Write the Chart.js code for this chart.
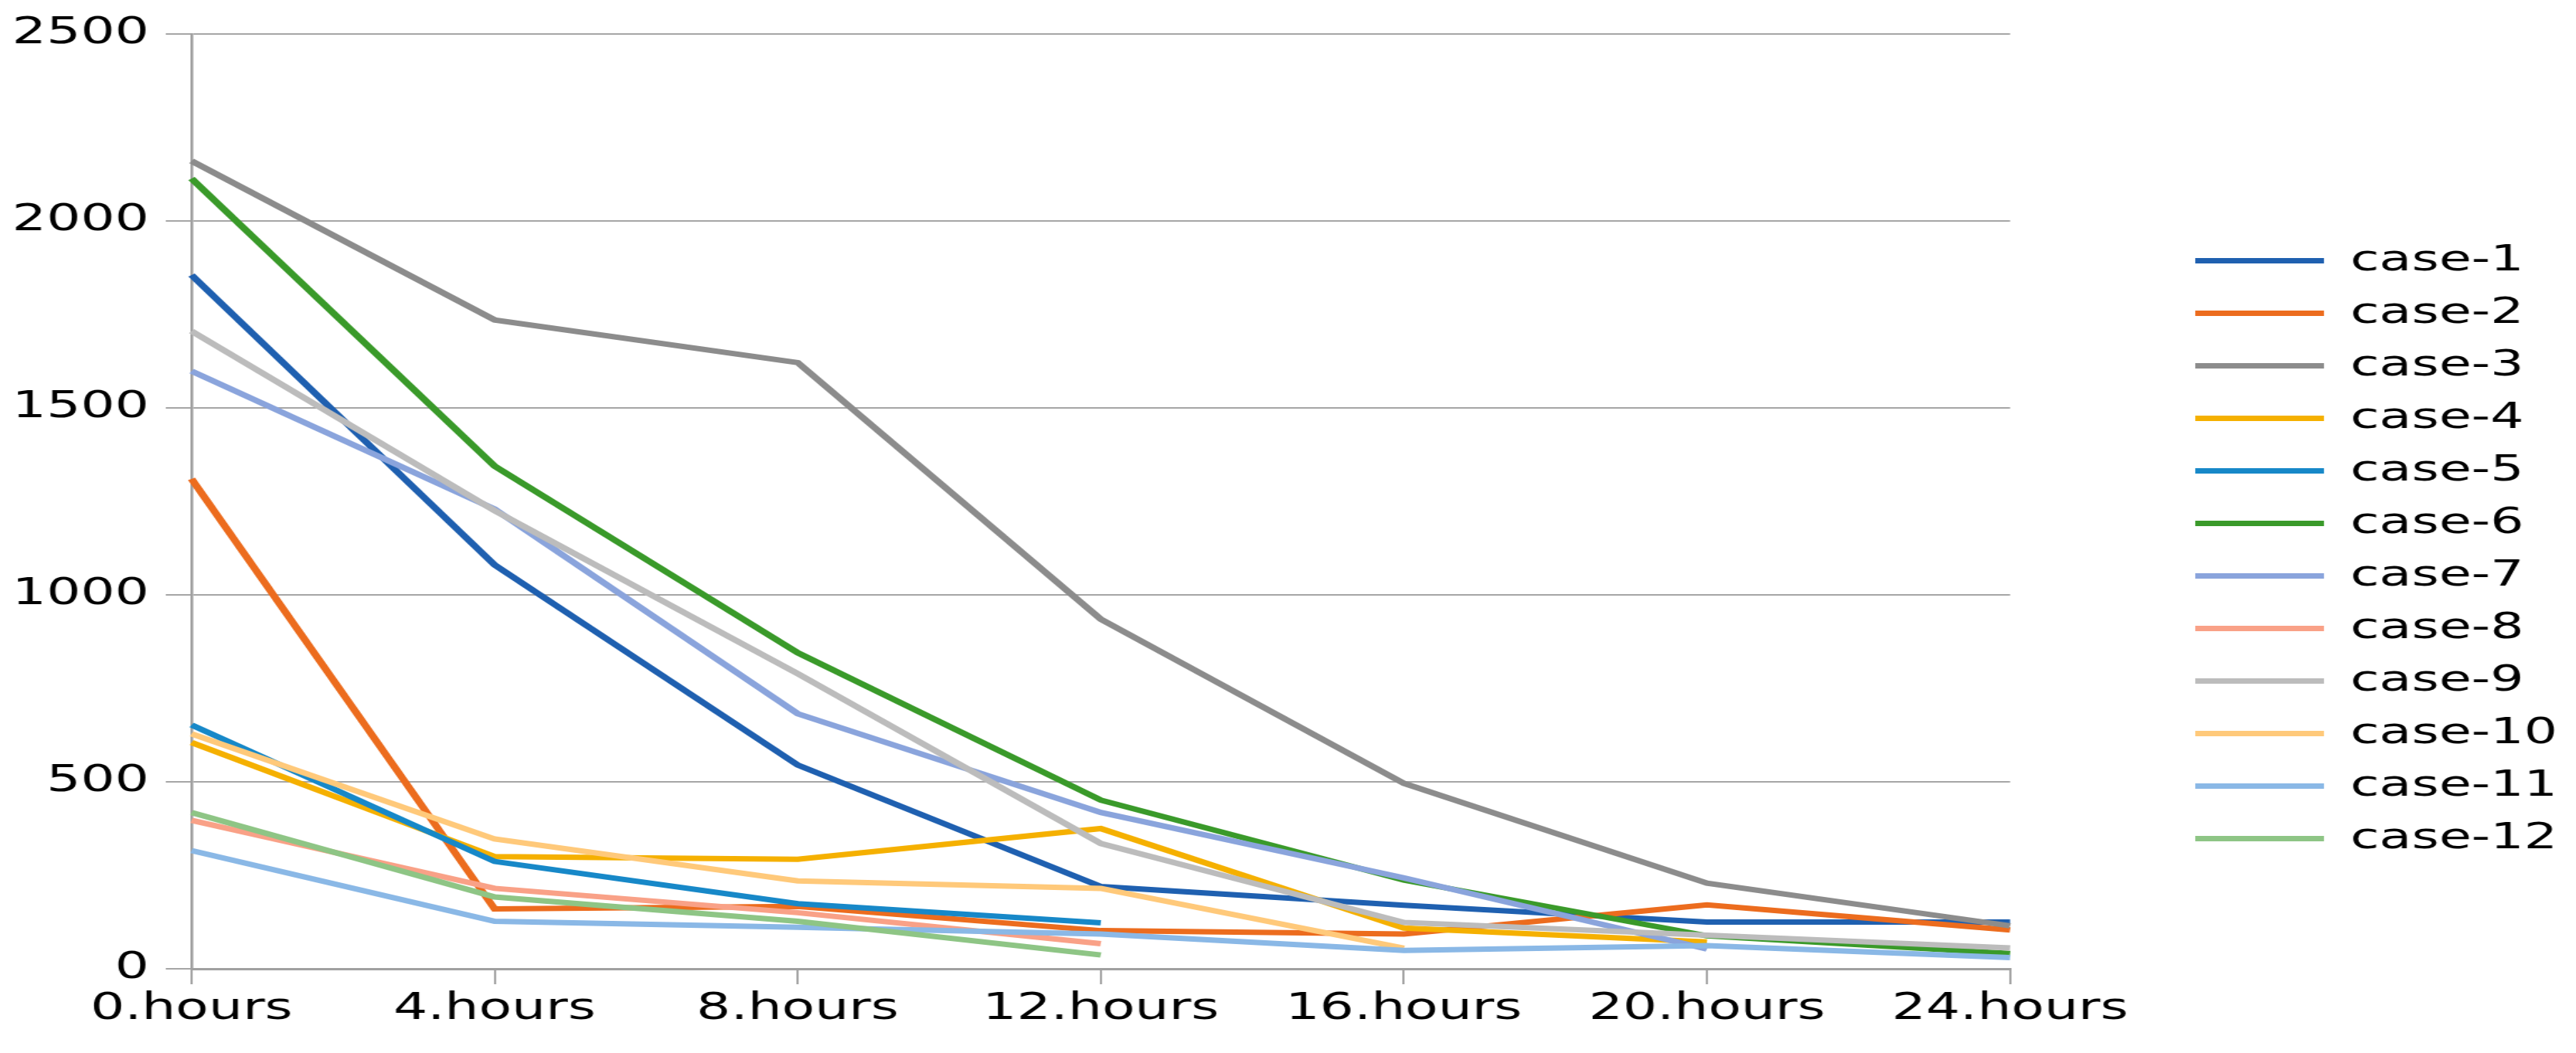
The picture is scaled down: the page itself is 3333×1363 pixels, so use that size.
<!DOCTYPE html>
<html>
<head>
<meta charset="utf-8">
<script src="https://cdn.jsdelivr.net/npm/chart.js@4.4.1/dist/chart.umd.min.js"></script>
<style>
html, body { margin: 0; padding: 0; background: #fff; overflow: hidden; }
</style>
</head>
<body>
<canvas id="chart" width="2300" height="1363" style="width:3333px;height:1363px"></canvas>
<script>
// x categories
const hours = ['0.hours', '4.hours', '8.hours', '12.hours', '16.hours', '20.hours', '24.hours'];

// series (null = line stops)
const case1  = [1855, 1080, 545, 220, 170, 125, 125];
const case2  = [1310, 160, 167, 102, 93, 171, 104];
const case3  = [2160, 1735, 1621, 935, 496, 229, 115];
const case4  = [605, 300, 293, 375, 109, 72, null];
const case5  = [652, 287, 174, 123, null, null, null];
const case6  = [2113, 1344, 845, 451, 237, 88, 41];
const case7  = [1598, 1229, 682, 418, 243, 53, null];
const case8  = [397, 215, 150, 67, null, null, null];
const case9  = [1705, 1225, 789, 335, 124, 90, 56];
const case10 = [628, 347, 235, 215, 55, null, null];
const case11 = [316, 127, 111, 93, 49, 62, 30];
const case12 = [418, 192, 127, 37, null, null, null];

const names  = ['case-1', 'case-2', 'case-3', 'case-4', 'case-5', 'case-6',
                'case-7', 'case-8', 'case-9', 'case-10', 'case-11', 'case-12'];
const series = [case1, case2, case3, case4, case5, case6,
                case7, case8, case9, case10, case11, case12];
const colors = ['#1f60b0', '#ec6c1e', '#8c8c8c', '#f5b000', '#1788c8', '#3a9a2a',
                '#8aa4dc', '#f9a187', '#bcbcbc', '#ffc97a', '#8ab8e6', '#8ec585'];

// y axis ticks
const yMin = 0, yMax = 2500, yStep = 500;

Chart.defaults.font.family = 'DejaVu Sans';
Chart.defaults.color = '#000';

// move the legend away from the plot, like the original
const LEGEND_X = 1939;
const LEGEND_DY = 10;
const legendShift = {
  id: 'legendShift',
  afterLayout(chart) {
    const lg = chart.legend;
    const dx = LEGEND_X - lg.left;
    lg.left += dx; lg.right += dx;
    lg.top += LEGEND_DY; lg.bottom += LEGEND_DY;
  }
};

const datasets = series.map(function (d, i) {
  return {
    label: names[i],
    data: d,
    borderColor: colors[i],
    backgroundColor: colors[i],
    borderWidth: 7,
    pointRadius: 0,
    tension: 0,
    spanGaps: false,
    order: 12 - i
  };
});

new Chart(document.getElementById('chart'), {
  type: 'line',
  data: { labels: hours, datasets: datasets },
  options: {
    responsive: false,
    animation: false,
    layout: { padding: { top: 40, left: 0, right: 151, bottom: 0 } },
    plugins: {
      tooltip: { enabled: false },
      legend: {
        position: 'right',
        labels: {
          usePointStyle: true,
          pointStyle: 'line',
          pointStyleWidth: 115,
          padding: 21,
          font: { size: 47 },
          color: '#000',
          sort: function (a, b) { return a.datasetIndex - b.datasetIndex; }
        }
      }
    },
    scales: {
      x: {
        offset: false,
        grid: { drawOnChartArea: false, drawTicks: true, tickLength: 20, color: '#a6a6a6', lineWidth: 2 },
        border: { display: true, color: '#a0a0a0', width: 3 },
        ticks: { font: { size: 48 }, padding: 4, maxRotation: 0, autoSkip: false },
        afterFit: function (s) { s.height = 109; }
      },
      y: {
        min: yMin,
        max: yMax,
        grid: { color: '#a6a6a6', lineWidth: 2, tickLength: 23 },
        border: { display: true, color: '#a0a0a0', width: 2.5 },
        ticks: {
          stepSize: yStep,
          font: { size: 48 },
          padding: 15,
          callback: function (v) { return String(v); }
        },
        afterFit: function (s) { s.width = 171; }
      }
    }
  },
  plugins: [legendShift]
});
</script>
</body>
</html>
